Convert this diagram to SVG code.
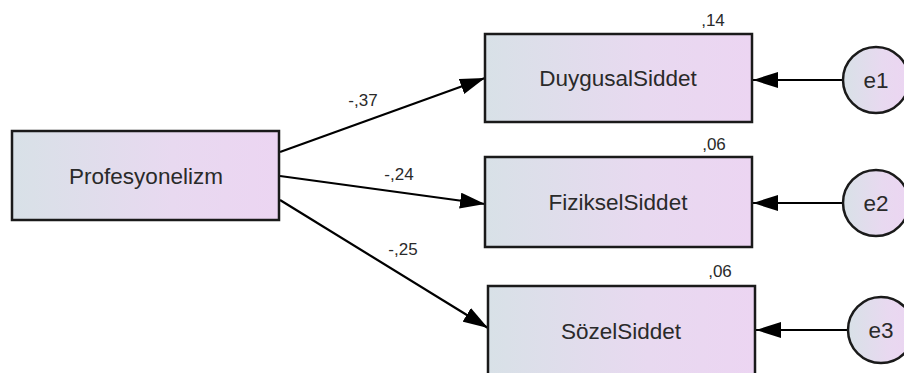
<svg xmlns="http://www.w3.org/2000/svg" width="904" height="373" viewBox="0 0 904 373">
<defs>
<linearGradient id="g" x1="0" y1="0" x2="1" y2="0">
<stop offset="0" stop-color="#d8e1e7"/>
<stop offset="0.6" stop-color="#e8d9f0"/>
<stop offset="1" stop-color="#ecd5f2"/>
</linearGradient>
<marker id="ah" markerWidth="25" markerHeight="16" refX="25" refY="8" orient="auto" markerUnits="userSpaceOnUse">
<path d="M0,0 L25,8 L0,16 Z" fill="#000"/>
</marker>
<style>
.box{fill:url(#g);stroke:#1a1a1a;stroke-width:2.5}
.lab{font-family:"Liberation Sans",Arial,sans-serif;font-size:22.5px;fill:#2a2a2a;text-anchor:middle}
.sm{font-family:"Liberation Sans",Arial,sans-serif;font-size:17px;fill:#2a2a2a;text-anchor:middle}
.c{stroke:#000;stroke-width:2.2;fill:none;marker-end:url(#ah)}
</style>
</defs>
<rect width="904" height="373" fill="#fff"/>
<g id="connectors">
<line class="c" x1="280" y1="152" x2="485" y2="78"/>
<line class="c" x1="280" y1="176" x2="485" y2="204"/>
<line class="c" x1="280" y1="200" x2="488" y2="328"/>
<line class="c" x1="843" y1="80" x2="753" y2="80"/>
<line class="c" x1="843" y1="203" x2="753" y2="203"/>
<line class="c" x1="848" y1="330" x2="756" y2="330"/>
<text class="sm" x="363" y="106">-,37</text>
<text class="sm" x="399" y="180">-,24</text>
<text class="sm" x="403" y="255">-,25</text>
</g>
<g id="Profesyonelizm">
<rect class="box" x="12" y="131" width="267" height="89"/>
<text class="lab" x="146" y="184">Profesyonelizm</text>
</g>
<g id="DuygusalSiddet">
<rect class="box" x="485" y="34" width="267" height="88"/>
<text class="lab" x="618" y="86">DuygusalSiddet</text>
<text class="sm" x="713" y="26">,14</text>
</g>
<g id="FizikselSiddet">
<rect class="box" x="485" y="157" width="267" height="90"/>
<text class="lab" x="618" y="210">FizikselSiddet</text>
<text class="sm" x="714" y="150">,06</text>
</g>
<g id="SozelSiddet">
<rect class="box" x="488" y="286" width="267" height="100"/>
<text class="lab" x="621" y="339">SözelSiddet</text>
<text class="sm" x="720" y="277">,06</text>
</g>
<g id="e1">
<circle class="box" cx="876" cy="80" r="33"/>
<text class="lab" x="876" y="88">e1</text>
</g>
<g id="e2">
<circle class="box" cx="876" cy="203" r="33"/>
<text class="lab" x="876" y="211">e2</text>
</g>
<g id="e3">
<circle class="box" cx="881" cy="330" r="33"/>
<text class="lab" x="881" y="338">e3</text>
</g>
</svg>
